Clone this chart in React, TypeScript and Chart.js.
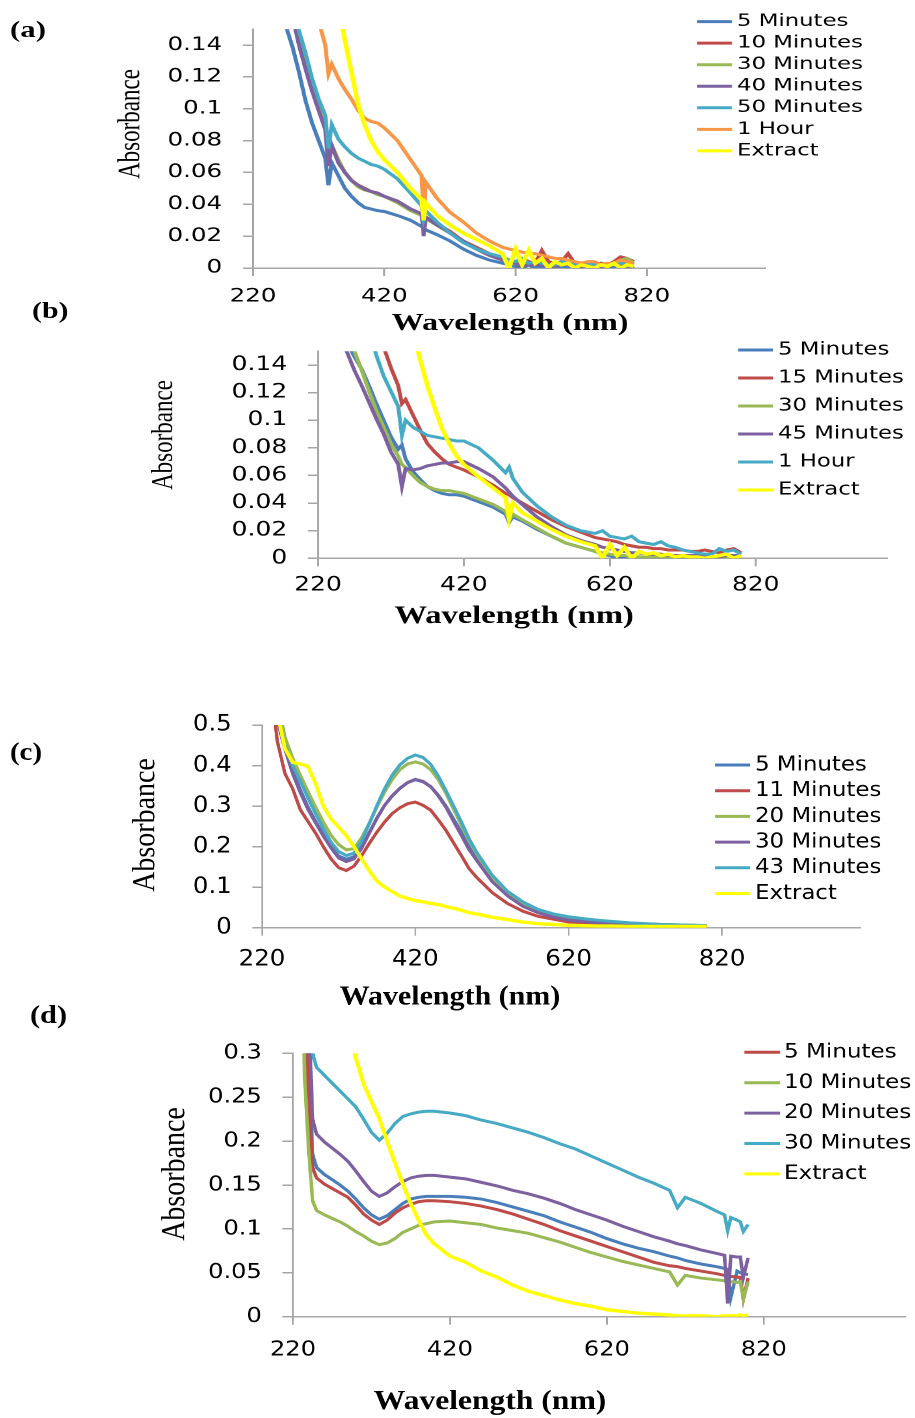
import React, { useEffect, useRef } from "react";
import { Chart, registerables } from "chart.js";

Chart.register(...registerables);

// ---------------- shared axis values ----------------
const X_TICKS = [220, 420, 620, 820];
const X_MIN = 220;
const X_MAX = 1000;
const Y_TICKS_AB = [0, 0.02, 0.04, 0.06, 0.08, 0.1, 0.12, 0.14];
const Y_TICKS_C = [0, 0.1, 0.2, 0.3, 0.4, 0.5];
const Y_TICKS_D = [0, 0.05, 0.1, 0.15, 0.2, 0.25, 0.3];

const BLUE = "#4A7EBB";
const RED = "#BE4B48";
const GREEN = "#98B954";
const PURPLE = "#7D60A0";
const AQUA = "#46AAC5";
const ORANGE = "#F79646";
const YELLOW = "#FFFF00";
const AXIS_GREY = "#a6a6a6";

// ---------------- panel (a) ----------------
const WL_A = [260, 270, 280, 290, 300, 310, 320, 330, 335, 340, 350, 360, 370, 380, 390, 400, 410, 420, 440, 460, 477, 480, 483, 500, 520, 540, 560, 580,
  600, 610, 620, 630, 640, 650, 660, 670, 680, 690, 700, 710, 720, 730, 740, 750, 760, 770, 780, 790, 800];
const LABELS_A = ["5 Minutes", "10 Minutes", "30 Minutes", "40 Minutes", "50 Minutes", "1 Hour", "Extract"];
const A_5MIN = [0.17, 0.152, 0.139, 0.123, 0.105, 0.091, 0.080, 0.069, 0.052, 0.066, 0.058, 0.050, 0.045, 0.041, 0.038, 0.037, 0.036, 0.0355, 0.033, 0.030, 0.026, 0.025, 0.024, 0.021, 0.017, 0.012, 0.008, 0.005,
  0.003, 0.002, 0.001, 0.0, 0.002, 0.0, 0.001, 0.0, 0.0, 0.001, 0.0, 0.0, 0.001, 0.0, 0.0, 0.001, 0.0, 0.0, 0.001, 0.001, 0.0];
const A_10MIN = [0.2, 0.185, 0.162, 0.144, 0.128, 0.113, 0.100, 0.088, 0.080, 0.076, 0.067, 0.060, 0.055, 0.052, 0.050, 0.048, 0.047, 0.045, 0.042, 0.037, 0.034, 0.033, 0.032, 0.028, 0.023, 0.017, 0.013, 0.009,
  0.006, 0.005, 0.004, 0.006, 0.004, 0.003, 0.011, 0.004, 0.003, 0.004, 0.009, 0.003, 0.003, 0.002, 0.002, 0.003, 0.002, 0.004, 0.007, 0.006, 0.004];
const A_30MIN = [0.2, 0.19, 0.165, 0.146, 0.129, 0.114, 0.101, 0.089, 0.080, 0.077, 0.068, 0.060, 0.055, 0.051, 0.049, 0.048, 0.046, 0.045, 0.041, 0.036, 0.033, 0.032, 0.031, 0.027, 0.022, 0.017, 0.012, 0.008,
  0.005, 0.004, 0.004, 0.003, 0.003, 0.002, 0.004, 0.002, 0.002, 0.002, 0.003, 0.002, 0.002, 0.002, 0.002, 0.002, 0.002, 0.003, 0.005, 0.006, 0.003];
const A_40MIN = [0.2, 0.18, 0.158, 0.140, 0.125, 0.111, 0.099, 0.087, 0.064, 0.077, 0.066, 0.060, 0.055, 0.052, 0.0495, 0.048, 0.047, 0.045, 0.042, 0.037, 0.034, 0.020, 0.032, 0.027, 0.022, 0.017, 0.012, 0.008,
  0.005, 0.004, 0.003, 0.001, 0.002, 0.002, 0.002, 0.001, 0.001, 0.002, 0.002, 0.001, 0.001, 0.002, 0.002, 0.001, 0.001, 0.002, 0.002, 0.002, 0.002];
const A_50MIN = [0.2, 0.19, 0.165, 0.149, 0.135, 0.119, 0.106, 0.096, 0.075, 0.090, 0.081, 0.076, 0.072, 0.069, 0.067, 0.065, 0.064, 0.062, 0.056, 0.047, 0.039, 0.031, 0.036, 0.029, 0.022, 0.016, 0.012, 0.009,
  0.007, 0.005, 0.004, 0.006, 0.003, 0.004, 0.003, 0.002, 0.002, 0.004, 0.003, 0.002, 0.002, 0.003, 0.002, 0.002, 0.002, 0.002, 0.003, 0.003, 0.002];
const A_1HOUR = [0.3, 0.28, 0.26, 0.24, 0.22, 0.2, 0.155, 0.140, 0.122, 0.128, 0.119, 0.112, 0.106, 0.099, 0.094, 0.092, 0.091, 0.088, 0.080, 0.068, 0.058, 0.031, 0.054, 0.044, 0.035, 0.029, 0.022, 0.017,
  0.013, 0.012, 0.011, 0.010, 0.009, 0.009, 0.008, 0.007, 0.006, 0.006, 0.005, 0.004, 0.003, 0.004, 0.004, 0.002, 0.003, 0.003, 0.005, 0.004, 0.003];
const A_EXTRACT = [0.45, 0.40, 0.36, 0.32, 0.29, 0.26, 0.24, 0.22, 0.21, 0.19, 0.163, 0.143, 0.123, 0.103, 0.090, 0.080, 0.073, 0.068, 0.060, 0.050, 0.043, 0.030, 0.041, 0.033, 0.027, 0.022, 0.018, 0.014,
  0.009, 0.0, 0.012, 0.002, 0.011, 0.003, 0.006, 0.0, 0.004, 0.002, 0.003, 0.0, 0.002, 0.001, 0.0, 0.002, 0.001, 0.003, 0.0, 0.002, 0.001];

// ---------------- panel (b) ----------------
const WL_B = [250, 260, 270, 280, 290, 300, 310, 320, 330, 335, 340, 350, 360, 370, 380, 390, 400, 410, 420, 440, 460, 477, 482, 487, 500, 520, 540, 560, 580,
  600, 610, 620, 630, 640, 650, 660, 670, 680, 690, 700, 710, 720, 730, 740, 750, 760, 770, 780, 790, 800];
const LABELS_B = ["5 Minutes", "15 Minutes", "30 Minutes", "45 Minutes", "1 Hour", "Extract"];
const B_5MIN = [0.18, 0.156, 0.146, 0.137, 0.125, 0.112, 0.100, 0.088, 0.079, 0.082, 0.072, 0.063, 0.057, 0.052, 0.049, 0.047, 0.046, 0.046, 0.045, 0.041, 0.037, 0.032, 0.026, 0.030, 0.027, 0.021, 0.016, 0.011, 0.008,
  0.005, 0.003, 0.002, 0.0, 0.001, 0.001, 0.001, 0.0, 0.0, 0.001, 0.001, 0.0, 0.0, 0.001, 0.001, 0.0, 0.001, 0.001, 0.002, 0.001, 0.001];
const B_15MIN = [0.30, 0.27, 0.24, 0.21, 0.19, 0.17, 0.153, 0.138, 0.125, 0.112, 0.115, 0.104, 0.093, 0.083, 0.077, 0.072, 0.068, 0.066, 0.064, 0.059, 0.053, 0.047, 0.046, 0.044, 0.040, 0.034, 0.028, 0.023, 0.019,
  0.015, 0.014, 0.013, 0.012, 0.010, 0.009, 0.008, 0.008, 0.007, 0.007, 0.006, 0.006, 0.006, 0.005, 0.005, 0.006, 0.005, 0.004, 0.006, 0.007, 0.004];
const B_30MIN = [0.19, 0.165, 0.150, 0.136, 0.121, 0.107, 0.095, 0.083, 0.074, 0.068, 0.066, 0.060, 0.055, 0.052, 0.050, 0.049, 0.049, 0.048, 0.047, 0.043, 0.039, 0.034, 0.027, 0.032, 0.028, 0.022, 0.016, 0.011, 0.008,
  0.005, 0.004, 0.003, 0.002, 0.002, 0.001, 0.001, 0.001, 0.001, 0.001, 0.001, 0.001, 0.001, 0.001, 0.001, 0.001, 0.001, 0.001, 0.001, 0.001, 0.001];
const B_45MIN = [0.165, 0.149, 0.136, 0.125, 0.113, 0.101, 0.090, 0.077, 0.068, 0.052, 0.065, 0.064, 0.065, 0.067, 0.068, 0.069, 0.069, 0.070, 0.070, 0.065, 0.059, 0.051, 0.048, 0.045, 0.039, 0.030, 0.023, 0.017, 0.013,
  0.010, 0.008, 0.007, 0.006, 0.005, 0.004, 0.004, 0.003, 0.003, 0.003, 0.002, 0.002, 0.002, 0.002, 0.002, 0.001, 0.001, 0.001, 0.002, 0.002, 0.002];
const B_1HOUR = [0.25, 0.22, 0.20, 0.18, 0.165, 0.147, 0.132, 0.121, 0.110, 0.089, 0.100, 0.095, 0.092, 0.089, 0.088, 0.087, 0.086, 0.085, 0.085, 0.080, 0.071, 0.062, 0.066, 0.058, 0.048, 0.038, 0.030, 0.024, 0.020,
  0.018, 0.020, 0.016, 0.015, 0.014, 0.016, 0.012, 0.011, 0.010, 0.012, 0.009, 0.008, 0.006, 0.005, 0.004, 0.003, 0.003, 0.007, 0.005, 0.006, 0.003];
const B_EXTRACT = [0.50, 0.42, 0.37, 0.32, 0.28, 0.25, 0.23, 0.215, 0.20, 0.195, 0.19, 0.165, 0.144, 0.125, 0.109, 0.094, 0.083, 0.074, 0.068, 0.059, 0.051, 0.044, 0.029, 0.040, 0.033, 0.027, 0.021, 0.016, 0.012,
  0.009, 0.0, 0.010, 0.002, 0.008, 0.0, 0.005, 0.003, 0.004, 0.002, 0.003, 0.001, 0.002, 0.001, 0.001, 0.0, 0.001, 0.002, 0.003, 0.0, 0.002];

// ---------------- panel (c) ----------------
const WL_C = [230, 240, 250, 260, 270, 280, 290, 300, 310, 320, 330, 340, 350, 360, 370, 380, 390, 400, 410, 420, 430, 440, 450, 460, 470, 480, 490, 500, 520, 540, 560, 580, 600, 620, 640, 660, 680, 700, 720, 740, 760, 780, 800];
const LABELS_C = ["5 Minutes", "11 Minutes", "20 Minutes", "30 Minutes", "43 Minutes", "Extract"];
const C_5MIN = [0.78, 0.52, 0.445, 0.388, 0.340, 0.298, 0.262, 0.230, 0.201, 0.177, 0.169, 0.175, 0.199, 0.235, 0.271, 0.302, 0.325, 0.344, 0.358, 0.365, 0.360, 0.348, 0.327, 0.300, 0.268, 0.236, 0.200, 0.171, 0.120, 0.083, 0.056, 0.039, 0.028, 0.021, 0.016, 0.013, 0.011, 0.010, 0.009, 0.008, 0.007, 0.006, 0.005];
const C_11MIN = [0.62, 0.46, 0.38, 0.343, 0.291, 0.262, 0.233, 0.200, 0.170, 0.148, 0.141, 0.152, 0.178, 0.208, 0.236, 0.261, 0.282, 0.296, 0.306, 0.310, 0.302, 0.290, 0.266, 0.240, 0.209, 0.178, 0.146, 0.124, 0.087, 0.060, 0.041, 0.028, 0.021, 0.014, 0.012, 0.010, 0.009, 0.008, 0.008, 0.007, 0.006, 0.005, 0.005];
const C_20MIN = [0.85, 0.56, 0.47, 0.418, 0.376, 0.336, 0.297, 0.261, 0.228, 0.205, 0.192, 0.195, 0.222, 0.258, 0.298, 0.335, 0.366, 0.390, 0.404, 0.409, 0.404, 0.390, 0.365, 0.331, 0.292, 0.253, 0.215, 0.182, 0.124, 0.085, 0.061, 0.041, 0.030, 0.022, 0.017, 0.014, 0.012, 0.010, 0.009, 0.008, 0.007, 0.006, 0.005];
const C_30MIN = [0.75, 0.51, 0.44, 0.38, 0.333, 0.292, 0.258, 0.226, 0.197, 0.172, 0.163, 0.170, 0.196, 0.233, 0.270, 0.302, 0.326, 0.344, 0.358, 0.366, 0.361, 0.348, 0.325, 0.297, 0.262, 0.228, 0.193, 0.166, 0.114, 0.079, 0.053, 0.037, 0.026, 0.019, 0.015, 0.012, 0.010, 0.009, 0.008, 0.007, 0.006, 0.005, 0.004];
const C_43MIN = [0.82, 0.53, 0.45, 0.400, 0.362, 0.320, 0.281, 0.245, 0.211, 0.188, 0.178, 0.184, 0.214, 0.257, 0.302, 0.343, 0.377, 0.402, 0.418, 0.426, 0.420, 0.403, 0.374, 0.338, 0.300, 0.261, 0.220, 0.186, 0.130, 0.090, 0.064, 0.045, 0.034, 0.027, 0.022, 0.018, 0.015, 0.012, 0.010, 0.008, 0.007, 0.006, 0.005];
const C_EXTRACT = [0.62, 0.53, 0.442, 0.408, 0.404, 0.398, 0.355, 0.300, 0.268, 0.248, 0.227, 0.200, 0.170, 0.140, 0.115, 0.100, 0.089, 0.078, 0.072, 0.067, 0.064, 0.060, 0.057, 0.052, 0.048, 0.043, 0.037, 0.034, 0.026, 0.020, 0.014, 0.010, 0.008, 0.006, 0.005, 0.004, 0.004, 0.003, 0.003, 0.003, 0.003, 0.003, 0.003];

// ---------------- panel (d) ----------------
const WL_D = [230, 235, 240, 245, 250, 260, 270, 280, 290, 300, 310, 320, 330, 340, 350, 360, 370, 380, 390, 400, 420, 440, 460, 480, 500, 520, 540, 560, 580, 600, 620, 640, 660, 680, 700, 710, 720, 740, 760, 770, 774, 778, 786, 790, 794, 800];
const LABELS_D = ["Series 1", "5 Minutes", "10 Minutes", "20 Minutes", "30 Minutes", "Extract"];
const IN_LEGEND_D = [false, true, true, true, true, true];
const D_SERIES1 = [0.6, 0.42, 0.30, 0.185, 0.170, 0.162, 0.156, 0.150, 0.143, 0.134, 0.124, 0.116, 0.111, 0.115, 0.122, 0.129, 0.134, 0.136, 0.137, 0.137, 0.137, 0.136, 0.134, 0.130, 0.125, 0.120, 0.115, 0.108, 0.102, 0.096, 0.089, 0.083, 0.078, 0.074, 0.069, 0.067, 0.064, 0.060, 0.057, 0.055, 0.054, 0.022, 0.052, 0.050, 0.049, 0.048];
const D_5MIN = [0.55, 0.36, 0.25, 0.170, 0.158, 0.151, 0.146, 0.141, 0.136, 0.127, 0.117, 0.110, 0.105, 0.110, 0.118, 0.124, 0.128, 0.131, 0.132, 0.132, 0.131, 0.129, 0.126, 0.122, 0.117, 0.111, 0.105, 0.098, 0.092, 0.086, 0.080, 0.074, 0.068, 0.062, 0.058, 0.057, 0.055, 0.052, 0.049, 0.047, 0.047, 0.046, 0.045, 0.045, 0.020, 0.044];
const D_10MIN = [0.45, 0.27, 0.19, 0.132, 0.121, 0.116, 0.112, 0.108, 0.103, 0.097, 0.092, 0.086, 0.082, 0.084, 0.089, 0.096, 0.100, 0.104, 0.106, 0.108, 0.109, 0.107, 0.105, 0.101, 0.098, 0.095, 0.090, 0.085, 0.079, 0.073, 0.068, 0.063, 0.059, 0.055, 0.051, 0.036, 0.047, 0.044, 0.042, 0.041, 0.040, 0.040, 0.039, 0.040, 0.020, 0.040];
const D_20MIN = [0.65, 0.48, 0.35, 0.225, 0.208, 0.199, 0.192, 0.185, 0.177, 0.166, 0.154, 0.143, 0.137, 0.141, 0.148, 0.154, 0.158, 0.160, 0.161, 0.161, 0.159, 0.157, 0.153, 0.149, 0.144, 0.140, 0.135, 0.129, 0.122, 0.116, 0.110, 0.103, 0.097, 0.091, 0.086, 0.083, 0.081, 0.076, 0.072, 0.070, 0.015, 0.069, 0.068, 0.068, 0.045, 0.067];
const D_30MIN = [0.75, 0.55, 0.40, 0.30, 0.284, 0.275, 0.266, 0.257, 0.248, 0.239, 0.225, 0.210, 0.201, 0.209, 0.220, 0.228, 0.231, 0.233, 0.234, 0.234, 0.232, 0.229, 0.224, 0.220, 0.215, 0.210, 0.204, 0.197, 0.191, 0.183, 0.175, 0.167, 0.159, 0.152, 0.144, 0.124, 0.136, 0.129, 0.120, 0.116, 0.098, 0.113, 0.110, 0.108, 0.097, 0.105];
const D_EXTRACT = [0.9, 0.8, 0.72, 0.65, 0.6, 0.5, 0.43, 0.37, 0.33, 0.295, 0.265, 0.245, 0.226, 0.200, 0.175, 0.151, 0.129, 0.110, 0.093, 0.083, 0.069, 0.062, 0.052, 0.045, 0.036, 0.029, 0.024, 0.019, 0.015, 0.012, 0.008, 0.006, 0.004, 0.003, 0.002, 0.001, 0.001, 0.001, 0.0, 0.001, 0.001, 0.001, 0.001, 0.002, 0.001, 0.002];

// ---------------- panel definitions (layout in unstretched px) ----------------
const PANELS = [
  {
    key: "a", tag: "(a)", wl: WL_A, labels: LABELS_A,
    series: [A_5MIN, A_10MIN, A_30MIN, A_40MIN, A_50MIN, A_1HOUR, A_EXTRACT],
    colors: [BLUE, RED, GREEN, PURPLE, AQUA, ORANGE, YELLOW],
    inLegend: [true, true, true, true, true, true, true],
    yMax: 0.15, yTicks: Y_TICKS_AB,
    lay: {
      s: 1.34, top: 0, W: 682, H: 340, left: 188.8, right: 570.9, plotTop: 29.1, plotBottom: 268,
      tickSize: 18.3, yTickLen: 7.5, yPad: 15.6, xPad: 9.7,
      legend: { x0: 520.1, x1: 546.3, tx: 550, top: 21.6, gap: 21.55, size: 17 },
      xTitle: { cx: 380.6, cy: 324, size: 24 }, yTitle: { cx: 98, cy: 124, size: 23 },
      tagPos: { left: 7.5, top: 18, size: 23 },
    },
  },
  {
    key: "b", tag: "(b)", wl: WL_B, labels: LABELS_B,
    series: [B_5MIN, B_15MIN, B_30MIN, B_45MIN, B_1HOUR, B_EXTRACT],
    colors: [BLUE, RED, GREEN, PURPLE, AQUA, YELLOW],
    inLegend: [true, true, true, true, true, true],
    yMax: 0.15, yTicks: Y_TICKS_AB,
    lay: {
      s: 1.3, top: 340, W: 703, H: 300, left: 244.6, right: 682.3, plotTop: 11.2, plotBottom: 218.3,
      tickSize: 19.2, yTickLen: 7.7, yPad: 16, xPad: 7.5,
      legend: { x0: 567.7, x1: 594.6, tx: 598.5, top: 10, gap: 28, size: 17.5 },
      xTitle: { cx: 395.5, cy: 276.5, size: 25 }, yTitle: { cx: 126.3, cy: 95, size: 23 },
      tagPos: { left: 24.6, top: -41, size: 23 },
    },
  },
  {
    key: "c", tag: "(c)", wl: WL_C, labels: LABELS_C,
    series: [C_5MIN, C_11MIN, C_20MIN, C_30MIN, C_43MIN, C_EXTRACT],
    colors: [BLUE, RED, GREEN, PURPLE, AQUA, YELLOW],
    inLegend: [true, true, true, true, true, true],
    yMax: 0.5, yTicks: Y_TICKS_C,
    lay: {
      s: 1.11, top: 700, W: 823, H: 320, left: 236, right: 774.8, plotTop: 25, plotBottom: 227.7,
      tickSize: 22, yTickLen: 8.7, yPad: 18.6, xPad: 10.8,
      legend: { x0: 644.1, x1: 675.7, tx: 680.2, top: 65, gap: 25.7, size: 20.6 },
      xTitle: { cx: 405.4, cy: 297.7, size: 27 }, yTitle: { cx: 131.4, cy: 125, size: 28 },
      tagPos: { left: 9, top: 38.5, size: 26 },
    },
  },
  {
    key: "d", tag: "(d)", wl: WL_D, labels: LABELS_D,
    series: [D_SERIES1, D_5MIN, D_10MIN, D_20MIN, D_30MIN, D_EXTRACT],
    colors: [BLUE, RED, GREEN, PURPLE, AQUA, YELLOW],
    inLegend: IN_LEGEND_D,
    yMax: 0.3, yTicks: Y_TICKS_D,
    lay: {
      s: 1.17, top: 1030, W: 781, H: 388, left: 250.4, right: 773.5, plotTop: 23.3, plotBottom: 286.7,
      tickSize: 20.6, yTickLen: 9.1, yPad: 17.6, xPad: 13.1,
      legend: { x0: 636.2, x1: 666.7, tx: 670.1, top: 22.3, gap: 30.4, size: 19.7 },
      xTitle: { cx: 418.8, cy: 372, size: 27 }, yTitle: { cx: 150.3, cy: 144, size: 28 },
      tagPos: { left: 25.6, top: -28, size: 26 },
    },
  },
];

const fmt = (v: number) => String(parseFloat(Number(v).toFixed(4)));

// draws the legend and axis titles at the positions given in options.plugins.decor
const decorPlugin = {
  id: "decor",
  afterDraw(chart: any, _args: any, opts: any) {
    const ctx = chart.ctx;
    ctx.save();
    const L = opts.legend;
    let row = 0;
    chart.data.datasets.forEach((ds: any) => {
      if (ds.inLegend === false) return;
      const y = L.top + row * L.gap;
      ctx.strokeStyle = ds.borderColor;
      ctx.lineWidth = 3;
      ctx.lineCap = "butt";
      ctx.beginPath();
      ctx.moveTo(L.x0, y);
      ctx.lineTo(L.x1, y);
      ctx.stroke();
      ctx.fillStyle = "#000";
      ctx.font = `${L.size}px "DejaVu Sans", sans-serif`;
      ctx.textAlign = "left";
      ctx.textBaseline = "middle";
      ctx.fillText(ds.label, L.tx, y);
      row++;
    });
    const X = opts.xTitle;
    ctx.fillStyle = "#000";
    ctx.textAlign = "center";
    ctx.textBaseline = "middle";
    ctx.font = `bold ${X.size}px "Liberation Serif", "Times New Roman", serif`;
    ctx.fillText(X.text, X.cx, X.cy);
    const Y = opts.yTitle;
    ctx.translate(Y.cx, Y.cy);
    ctx.rotate(-Math.PI / 2);
    ctx.font = `${Y.size}px "Liberation Serif", "Times New Roman", serif`;
    ctx.fillText(Y.text, 0, 0);
    ctx.restore();
  },
};

function Panel({ p }: { p: any }) {
  const ref = useRef<HTMLCanvasElement | null>(null);
  const L = p.lay;
  useEffect(() => {
    if (!ref.current) return;
    const n = p.series.length;
    const tickFont = { family: '"DejaVu Sans", sans-serif', size: L.tickSize };
    const chart = new Chart(ref.current, {
      type: "line",
      data: {
        datasets: p.series.map((vals: number[], i: number) => ({
          label: p.labels[i],
          data: p.wl.map((x: number, j: number) => ({ x, y: vals[j] })),
          borderColor: p.colors[i],
          backgroundColor: p.colors[i],
          borderWidth: p.colors[i] === YELLOW ? 3.4 : 3,
          pointRadius: 0,
          tension: 0,
          fill: false,
          order: n - i,
          inLegend: p.inLegend[i],
        })),
      },
      options: {
        responsive: false,
        devicePixelRatio: 2,
        animation: false,
        events: [],
        layout: { padding: { top: L.plotTop, right: L.W - L.right, bottom: 0, left: 0 } },
        plugins: {
          legend: { display: false },
          title: { display: false },
          tooltip: { enabled: false },
          decor: {
            legend: L.legend,
            xTitle: { text: "Wavelength (nm)", ...L.xTitle },
            yTitle: { text: "Absorbance", ...L.yTitle },
          },
        },
        scales: {
          x: {
            type: "linear",
            min: X_MIN,
            max: X_MAX,
            afterBuildTicks: (axis: any) => {
              axis.ticks = X_TICKS.map((v) => ({ value: v }));
            },
            afterFit: (axis: any) => {
              axis.height = L.H - L.plotBottom;
              axis.paddingLeft = 0;
              axis.paddingRight = 0;
            },
            ticks: {
              autoSkip: false,
              maxRotation: 0,
              color: "#000",
              font: tickFont,
              padding: L.xPad,
              callback: (v: any) => String(v),
            },
            grid: { drawOnChartArea: false, drawTicks: true, tickLength: 8, color: AXIS_GREY, lineWidth: 1.5 },
            border: { display: true, color: AXIS_GREY, width: 1.5 },
            title: { display: false },
          },
          y: {
            type: "linear",
            min: 0,
            max: p.yMax,
            afterBuildTicks: (axis: any) => {
              axis.ticks = p.yTicks.map((v: number) => ({ value: v }));
            },
            afterFit: (axis: any) => {
              axis.width = L.left;
              axis.paddingTop = 0;
              axis.paddingBottom = 0;
            },
            ticks: {
              autoSkip: false,
              color: "#000",
              font: tickFont,
              padding: L.yPad,
              callback: (v: any) => fmt(v),
            },
            grid: { drawOnChartArea: false, drawTicks: true, tickLength: L.yTickLen, color: AXIS_GREY, lineWidth: 1.5 },
            border: { display: true, color: AXIS_GREY, width: 1.5 },
            title: { display: false },
          },
        },
      } as any,
      plugins: [decorPlugin as any],
    });
    return () => chart.destroy();
  }, []);

  return (
    <div
      style={{
        position: "absolute",
        left: 0,
        top: L.top,
        width: L.W,
        height: L.H,
        transform: `scaleX(${L.s})`,
        transformOrigin: "0 0",
      }}
    >
      <canvas
        ref={ref}
        width={L.W}
        height={L.H}
        style={{ position: "absolute", left: 0, top: 0, width: L.W, height: L.H, display: "block" }}
      />
      <div
        style={{
          position: "absolute",
          left: L.tagPos.left,
          top: L.tagPos.top,
          font: `bold ${L.tagPos.size}px "Liberation Serif", "Times New Roman", serif`,
          lineHeight: `${L.tagPos.size}px`,
          whiteSpace: "nowrap",
          color: "#000",
        }}
      >
        {p.tag}
      </div>
    </div>
  );
}

export default function App() {
  return (
    <div
      style={{
        position: "absolute",
        left: 0,
        top: 0,
        width: 915,
        height: 1418,
        overflow: "hidden",
        background: "#fff",
      }}
    >
      {PANELS.map((p) => (
        <Panel key={p.key} p={p} />
      ))}
    </div>
  );
}
